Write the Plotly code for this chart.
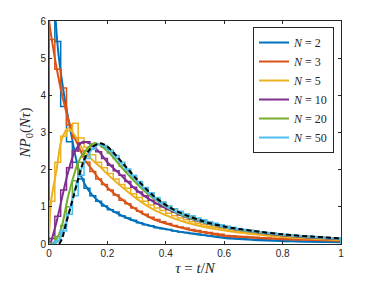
import plotly.graph_objects as go

# ---------------- data ----------------
N_values = [2, 3, 5, 10, 20, 50]
colors = ["#0072BD", "#D95319", "#EDB120", "#7E2F8E", "#77AC30", "#4DBEEE"]

bin_width = 0.02
n_bins = 50

hist_N2 = [9.0, 5.45, 3.7, 2.75, 2.2, 1.75, 1.5, 1.3, 1.15, 1.02, 0.92, 0.86, 0.76, 0.7, 0.64, 0.57,
           0.52, 0.49, 0.44, 0.41, 0.39, 0.35, 0.32, 0.31, 0.28, 0.27, 0.24, 0.22, 0.21, 0.19, 0.17,
           0.16, 0.15, 0.14, 0.13, 0.12, 0.12, 0.11, 0.10, 0.09, 0.07, 0.08, 0.08, 0.07, 0.07, 0.06,
           0.06, 0.05, 0.05, 0.045]
hist_N3 = [5.5, 4.7, 4.2, 3.2, 2.85, 2.5, 2.2, 1.95, 1.75, 1.6, 1.45, 1.32, 1.18, 1.08, 0.97, 0.88,
           0.8, 0.72, 0.66, 0.6, 0.55, 0.5, 0.46, 0.43, 0.39, 0.36, 0.33, 0.31, 0.28, 0.26, 0.23,
           0.22, 0.21, 0.2, 0.19, 0.18, 0.17, 0.16, 0.155, 0.15, 0.14, 0.135, 0.13, 0.125, 0.12,
           0.115, 0.11, 0.1, 0.1, 0.09]
hist_N5 = [1.15, 2.2, 2.9, 3.05, 3.25, 2.85, 2.6, 2.4, 2.2, 2.05, 1.9, 1.75, 1.6, 1.5, 1.35, 1.25,
           1.15, 1.05, 0.97, 0.9, 0.83, 0.76, 0.7, 0.65, 0.6, 0.56, 0.52, 0.48, 0.45, 0.41, 0.38,
           0.36, 0.33, 0.31, 0.29, 0.27, 0.26, 0.24, 0.23, 0.21, 0.2, 0.19, 0.18, 0.17, 0.16, 0.15,
           0.14, 0.13, 0.12, 0.115]
hist_N10 = [0.15, 0.75, 1.45, 2.05, 2.5, 2.72, 2.75, 2.62, 2.48, 2.3, 2.12, 1.97, 1.85, 1.68, 1.53,
            1.4, 1.3, 1.18, 1.08, 1.0, 0.93, 0.86, 0.79, 0.73, 0.68, 0.63, 0.59, 0.55, 0.51, 0.47,
            0.44, 0.42, 0.39, 0.37, 0.35, 0.32, 0.31, 0.29, 0.28, 0.26, 0.24, 0.23, 0.22, 0.21,
            0.2, 0.18, 0.17, 0.16, 0.15, 0.14]
hist_N20 = [0.02, 0.2, 0.5, 1.0, 1.7, 2.2, 2.5, 2.68, 2.7, 2.6, 2.45, 2.3, 2.1, 1.95, 1.78, 1.62,
            1.48, 1.35, 1.22, 1.12, 1.02, 0.94, 0.87, 0.8, 0.74, 0.68, 0.63, 0.59, 0.54, 0.5, 0.47,
            0.44, 0.41, 0.38, 0.36, 0.34, 0.32, 0.3, 0.28, 0.26, 0.25, 0.23, 0.22, 0.21, 0.2, 0.19,
            0.18, 0.17, 0.16, 0.15]
hist_N50 = [0.0, 0.08, 0.35, 0.8, 1.3, 1.85, 2.3, 2.55, 2.68, 2.65, 2.52, 2.38, 2.2, 2.02, 1.85,
            1.68, 1.52, 1.38, 1.25, 1.13, 1.02, 0.95, 0.88, 0.81, 0.76, 0.7, 0.65, 0.6, 0.56, 0.52,
            0.48, 0.45, 0.42, 0.39, 0.37, 0.35, 0.33, 0.31, 0.29, 0.27, 0.26, 0.24, 0.23, 0.22,
            0.21, 0.2, 0.19, 0.18, 0.17, 0.16]

curve_N2_x = [0.015, 0.023, 0.034, 0.052, 0.075, 0.1, 0.123, 0.15, 0.175, 0.2, 0.25, 0.3, 0.357,
              0.4, 0.47, 0.5, 0.6, 0.7, 0.8, 0.9, 1.0]
curve_N2_y = [7.5, 6.0, 5.0, 4.0, 3.0, 2.05, 1.6, 1.3, 1.12, 0.98, 0.76, 0.6, 0.47, 0.40, 0.3,
              0.27, 0.16, 0.11, 0.08, 0.06, 0.045]
curve_N3_x = [0.0, 0.02, 0.045, 0.08, 0.1, 0.123, 0.15, 0.169, 0.2, 0.215, 0.26, 0.3, 0.357, 0.4,
              0.47, 0.5, 0.61, 0.7, 0.8, 0.9, 1.0]
curve_N3_y = [6.0, 5.0, 4.0, 3.0, 2.65, 2.26, 1.98, 1.77, 1.52, 1.41, 1.14, 0.92, 0.67, 0.55, 0.40,
              0.35, 0.21, 0.17, 0.13, 0.11, 0.09]
curve_N5_x = [0.0, 0.008, 0.026, 0.043, 0.066, 0.09, 0.117, 0.15, 0.175, 0.2, 0.243, 0.3, 0.357,
              0.414, 0.47, 0.586, 0.7, 0.8, 0.9, 1.0]
curve_N5_y = [0.2, 1.2, 2.0, 2.8, 3.12, 2.9, 2.53, 2.25, 2.08, 1.88, 1.58, 1.22, 0.93, 0.73, 0.58,
              0.38, 0.26, 0.19, 0.14, 0.11]
curve_N10_x = [0.005, 0.026, 0.049, 0.066, 0.089, 0.117, 0.14, 0.175, 0.2, 0.24, 0.3, 0.357, 0.414,
               0.47, 0.586, 0.7, 0.8, 0.9, 1.0]
curve_N10_y = [0.0, 0.6, 1.4, 1.95, 2.5, 2.75, 2.7, 2.45, 2.2, 1.9, 1.45, 1.14, 0.91, 0.72, 0.47,
               0.32, 0.23, 0.17, 0.13]
curve_N20_x = [0.012, 0.025, 0.043, 0.066, 0.089, 0.1, 0.123, 0.158, 0.2, 0.25, 0.3, 0.357, 0.414,
               0.47, 0.6, 0.7, 0.8, 0.9, 1.0]
curve_N20_y = [0.0, 0.12, 0.45, 1.3, 1.95, 2.2, 2.5, 2.72, 2.5, 2.05, 1.63, 1.23, 0.94, 0.73, 0.45,
               0.33, 0.24, 0.18, 0.14]
curve_N50_x = [0.02, 0.035, 0.049, 0.072, 0.095, 0.129, 0.169, 0.2, 0.25, 0.3, 0.357, 0.414, 0.47,
               0.6, 0.7, 0.8, 0.9, 1.0]
curve_N50_y = [0.0, 0.12, 0.38, 0.95, 1.65, 2.35, 2.69, 2.58, 2.15, 1.7, 1.26, 0.95, 0.75, 0.46,
               0.34, 0.25, 0.19, 0.145]
limit_x = [0.035, 0.045, 0.06, 0.083, 0.1, 0.117, 0.14, 0.175, 0.2, 0.25, 0.3, 0.357, 0.414, 0.47,
           0.528, 0.6, 0.7, 0.8, 0.9, 1.0]
limit_y = [0.0, 0.15, 0.6, 1.25, 1.75, 2.2, 2.55, 2.71, 2.62, 2.2, 1.75, 1.3, 0.98, 0.77, 0.61,
           0.47, 0.35, 0.26, 0.2, 0.15]

x_ticks = [0, 0.2, 0.4, 0.6, 0.8, 1]
x_tick_labels = ["0", "0.2", "0.4", "0.6", "0.8", "1"]
y_ticks = [0, 1, 2, 3, 4, 5, 6]

hists = [hist_N2, hist_N3, hist_N5, hist_N10, hist_N20, hist_N50]
curves = [(curve_N2_x, curve_N2_y), (curve_N3_x, curve_N3_y), (curve_N5_x, curve_N5_y),
          (curve_N10_x, curve_N10_y), (curve_N20_x, curve_N20_y), (curve_N50_x, curve_N50_y)]

# ---------------- figure ----------------
fig = go.Figure()
edges = [i * bin_width for i in range(n_bins + 1)]

for N, col, h, (cx, cy) in zip(N_values, colors, hists, curves):
    sx = [edges[0]] + edges[:n_bins] + [edges[n_bins], edges[n_bins]]
    sy = [0] + list(h) + [h[-1], 0]
    fig.add_trace(go.Scatter(x=sx, y=sy, mode="lines", line=dict(color=col, width=1.5, shape="hv"),
                             showlegend=False, hoverinfo="skip"))
    fig.add_trace(go.Scatter(x=cx, y=cy, mode="lines",
                             line=dict(color=col, width=2, shape="spline", smoothing=0.8),
                             name=f"<i>N</i> = {N}"))

fig.add_trace(go.Scatter(x=limit_x, y=limit_y, mode="lines",
                         line=dict(color="black", width=2, dash="5px,3px", shape="spline", smoothing=0.8),
                         showlegend=False))

axis_common = dict(showline=True, linecolor="#262626", linewidth=1, mirror="ticks",
                   ticks="inside", ticklen=3, tickcolor="#262626", showgrid=False, zeroline=False,
                   automargin=False,
                   tickfont=dict(family="Liberation Sans, Arial, sans-serif", size=10, color="#262626"))

# the page body has an 8px margin, so the figure margins are reduced by 8px on the left/top
fig.update_layout(
    width=377, height=283,
    margin=dict(l=41, r=44, t=13, b=47),
    plot_bgcolor="white", paper_bgcolor="white",
    xaxis=dict(range=[0, 1], tickvals=x_ticks, ticktext=x_tick_labels,
               title=dict(text="<i>τ</i> = <i>t</i>/<i>N</i>", standoff=4,
                          font=dict(family="Liberation Serif, serif", size=15, color="#262626")),
               **axis_common),
    yaxis=dict(range=[0, 6], tickvals=y_ticks,
               title=dict(text="<i>NP</i><sub>0</sub>(<i>Nτ</i>)", standoff=6,
                          font=dict(family="Liberation Serif, serif", size=15, color="#262626")),
               **axis_common),
    legend=dict(x=0.976, y=0.973, xanchor="right", yanchor="top", bgcolor="white",
                bordercolor="#262626", borderwidth=1,
                font=dict(family="Liberation Serif, serif", size=12, color="#262626"),
                tracegroupgap=0, itemwidth=30),
)

fig.write_html("out.html")
